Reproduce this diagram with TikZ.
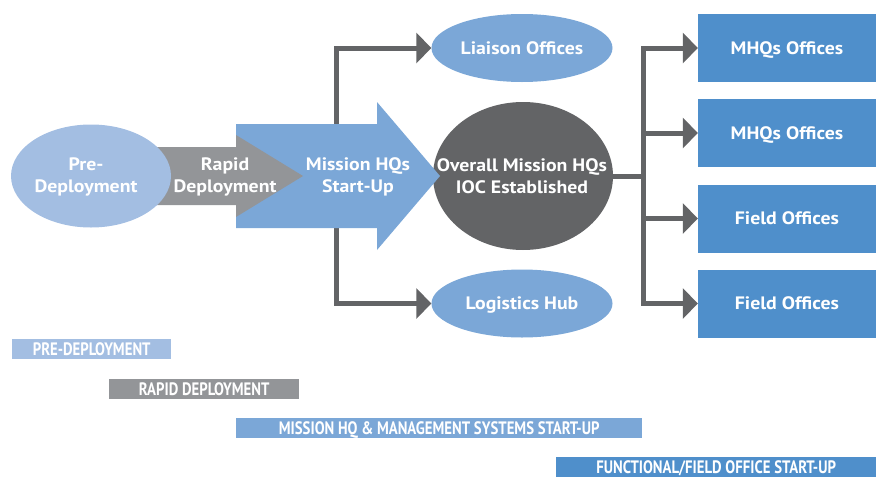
\documentclass[tikz,border=0pt]{standalone}
\usepackage{fontspec}
\setmainfont{PT Sans}[FakeStretch=1.1]
\newfontfamily\barfont[FakeStretch=0.82]{PT Sans}
\usetikzlibrary{shapes.geometric,arrows.meta}
\definecolor{lblue}{HTML}{A3BEE2}
\definecolor{mblue}{HTML}{7BA7D7}
\definecolor{dblue}{HTML}{4F8FCB}
\definecolor{lgray}{HTML}{939598}
\definecolor{dgray}{HTML}{636466}
\begin{document}
\begin{tikzpicture}[x=1pt,y=-1pt,
 lbl/.style={text=white,font=\fontsize{18}{22}\selectfont\bfseries,align=center},
 oval/.style={ellipse,inner sep=0pt,minimum width=181pt,minimum height=68pt,fill=mblue,lbl,text depth=0pt},
 box/.style={rectangle,inner sep=0pt,minimum width=178pt,minimum height=68pt,fill=dblue,lbl,text depth=0pt},
 conn/.style={draw=dgray,line width=5pt},
 arr/.style={conn,-{Triangle[length=15pt,width=30pt]}},
 bar/.style={inner sep=0pt,minimum height=20pt,text=white,anchor=north west,text depth=0pt,
   font=\barfont\fontsize{18}{18}\selectfont\bfseries}]
\useasboundingbox (0,0) rectangle (876,477);
% left fork (behind the blue arrow)
\coordinate (lf) at (336,176);
\node[oval] (lia) at (522,48) {Liaison Offices};
\node[oval] (log) at (522,303.5) {Logistics Hub};
\draw[conn,line cap=rect] (lf |- lia) -- (lf |- log);
\draw[arr] (lf |- lia) -- (lia.west);
\draw[arr] (lf |- log) -- (log.west);
% central ellipse
\node[ellipse,inner sep=0pt,minimum width=180pt,minimum height=148pt,fill=dgray] (ovr) at (523,176) {};
% blue block arrow
\fill[mblue] (236,124) -- (377,124) -- (377,102) -- (440,176) -- (377,250) -- (377,228) -- (236,228) -- cycle;
% gray block arrow
\fill[lgray] (155,147) -- (236,147) -- (236,135) -- (303,176) -- (236,217) -- (236,205) -- (155,205) -- cycle;
% pre-deployment
\node[ellipse,inner sep=0pt,minimum width=160pt,minimum height=103pt,fill=lblue,lbl] (pre) at (91,176) {};
\node[lbl] (pret) at (86,177) {Pre-\\Deployment};
\node[lbl] (rap) at (225,177) {Rapid\\Deployment};
\node[lbl] (mis) at (358,177) {Mission HQs\\Start-Up};
\node[lbl] (ovt) at (522,176) {Overall Mission HQs\\IOC Established};
% right boxes
\node[box] (m1) at (787,48) {MHQs Offices};
\node[box] (m2) at (787,133) {MHQs Offices};
\node[box] (f1) at (787,218.5) {Field Offices};
\node[box] (f2) at (787,303.5) {Field Offices};
\coordinate (jn) at (643,176);
\draw[conn] (ovr.east) -- (jn);
\draw[conn,line cap=rect] (jn |- m1) -- (jn |- f2);
\draw[arr] (jn |- m1) -- (m1.west);
\draw[arr] (jn |- m2) -- (m2.west);
\draw[arr] (jn |- f1) -- (f1.west);
\draw[arr] (jn |- f2) -- (f2.west);
% phase bars
\node[bar,fill=lblue,minimum width=159pt] (b1) at (12,339) {PRE-DEPLOYMENT};
\node[bar,fill=lgray,minimum width=190pt] (b2) at (109,378.5) {RAPID DEPLOYMENT};
\node[bar,fill=mblue,minimum width=406pt] (b3) at (236,418) {MISSION HQ \& MANAGEMENT SYSTEMS START-UP};
\node[bar,fill=dblue,minimum width=320pt] (b4) at (556,456.5) {FUNCTIONAL/FIELD OFFICE START-UP};
\end{tikzpicture}
\end{document}
